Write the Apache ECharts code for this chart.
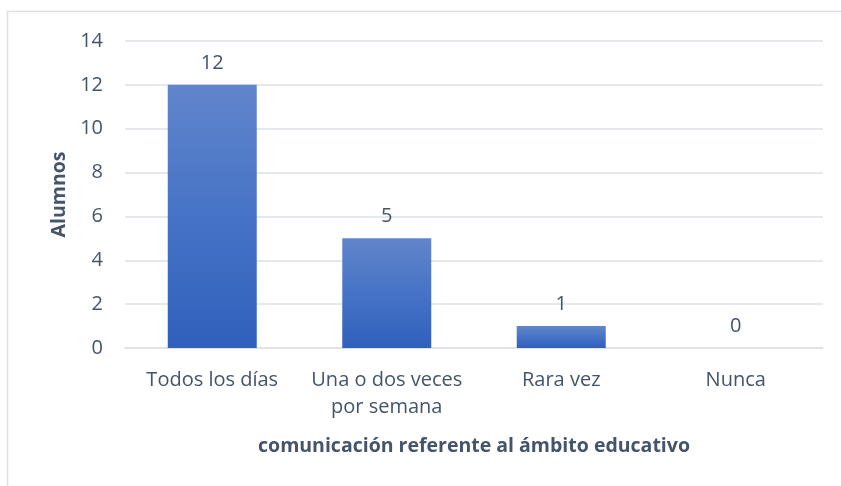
<!DOCTYPE html>
<html>
<head>
<meta charset="utf-8">
<script src="https://cdn.jsdelivr.net/npm/echarts@6/dist/echarts.min.js"></script>
<style>
  html, body { margin: 0; padding: 0; background: #fff; }
  #chart { width: 841px; height: 486px; }
</style>
</head>
<body>
<div id="chart"></div>
<script>
const categories = ["Todos los días", "Una o dos veces\npor semana", "Rara vez", "Nunca"];
const alumnos = [12, 5, 1, 0];
const yTicks = [0, 2, 4, 6, 8, 10, 12, 14];

const textColor = "#44546a";
const lineColor = "#dde1e7";
const font = "'Open Sans', sans-serif";

const chart = echarts.init(document.getElementById("chart"));

chart.setOption({
  animation: false,
  textStyle: { fontFamily: font },
  // marco del grafico (solo se ven borde superior e izquierdo)
  graphic: [
    {
      type: "rect",
      shape: { x: 7.5, y: 11.5, width: 900, height: 600 },
      style: { fill: "none", stroke: lineColor, lineWidth: 1.5 },
      silent: true,
    },
  ],
  grid: { left: 125, right: 18, top: 41, bottom: 138 },
  xAxis: {
    type: "category",
    data: categories,
    name: "comunicación referente al ámbito educativo",
    nameLocation: "middle",
    nameGap: 88,
    nameTextStyle: { color: textColor, fontSize: 19.5, fontWeight: "bold", fontFamily: font },
    axisLine: { lineStyle: { color: lineColor, width: 1.5 } },
    axisTick: { show: false },
    axisLabel: { interval: 0, color: textColor, fontSize: 20, margin: 19, lineHeight: 27, fontFamily: font },
  },
  yAxis: {
    type: "value",
    min: yTicks[0],
    max: yTicks[yTicks.length - 1],
    interval: 2,
    name: "Alumnos",
    nameLocation: "middle",
    nameRotate: 90,
    nameGap: 53,
    nameTextStyle: { color: textColor, fontSize: 19.5, fontWeight: "bold", fontFamily: font },
    axisLine: { show: false },
    axisTick: { show: false },
    axisLabel: { color: textColor, fontSize: 20, margin: 22, fontFamily: font },
    splitLine: { lineStyle: { color: lineColor, width: 1.5 } },
  },
  series: [
    {
      type: "bar",
      data: alumnos,
      barWidth: "51%",
      itemStyle: {
        color: new echarts.graphic.LinearGradient(0, 0, 0, 1, [
          { offset: 0, color: "#6185cb" },
          { offset: 0.5, color: "#4673c6" },
          { offset: 1, color: "#2f60bb" },
        ]),
      },
      label: {
        show: true,
        position: "top",
        distance: 12,
        color: textColor,
        fontSize: 20,
        fontFamily: font,
      },
    },
  ],
});
</script>
</body>
</html>
